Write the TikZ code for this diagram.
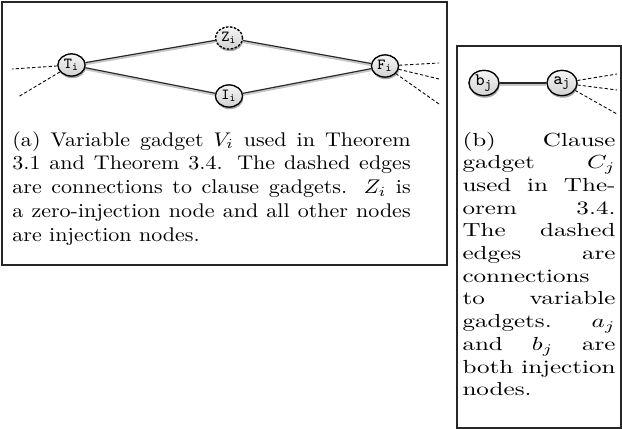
\documentclass[tikz,border=0pt]{standalone}
\usetikzlibrary{shapes.geometric,shadows}

\tikzset{
  gnode/.style={ellipse, draw=black, line width=0.55pt,
    top color=gray!8, bottom color=gray!35,
    minimum width=12.3pt, minimum height=10pt, inner sep=0pt,
    drop shadow={shadow xshift=0.35pt, shadow yshift=-1pt, opacity=0.45},
    font=\scriptsize},
  bignode/.style={gnode, minimum width=13.6pt, minimum height=11.4pt,
    font=\footnotesize},
  zeronode/.style={gnode, dash pattern=on 1.1pt off 0.7pt},
  gedge/.style={draw=black!85, line width=0.5pt,
    preaction={draw=gray!45, line width=1.4pt, transform canvas={yshift=-0.45pt}}},
  glink/.style={draw=black, line width=0.4pt, dash pattern=on 1.5pt off 1pt},
  gframe/.style={draw=black!85, line width=0.55pt},
  capt/.style={anchor=base west, inner sep=0pt, align=justify,
    font=\normalsize, transform shape}
}
\newcommand{\gl}[2]{$\mathtt{#1}_{\mathtt{#2}}$}
\hbadness=10000

\begin{document}
\begin{tikzpicture}[x=0.4545pt, y=-0.4545pt]
  \useasboundingbox (0,0) rectangle (622,429);

  % frames of the two sub-figures
  \draw[gframe] (2,2) rectangle (447,265);
  \draw[gframe] (457,46) rectangle (621,428);

  % variable gadget
  \node[gnode]    (T) at (71.5,65) {\gl{T}{i}};
  \node[zeronode] (Z) at (229,38)  {\gl{Z}{i}};
  \node[gnode]    (I) at (229,96)  {\gl{I}{i}};
  \node[gnode]    (F) at (385,66)  {\gl{F}{i}};

  \coordinate (t1) at (12,69);
  \coordinate (t2) at (18,97);
  \coordinate (f1) at (439,63);
  \coordinate (f2) at (439,79);
  \coordinate (f3) at (439,104);

  \draw[gedge] (T) -- (Z);
  \draw[gedge] (T) -- (I);
  \draw[gedge] (Z) -- (F);
  \draw[gedge] (I) -- (F);
  \draw[glink] (T) -- (t1);
  \draw[glink] (T) -- (t2);
  \draw[glink] (F) -- (f1);
  \draw[glink] (F) -- (f2);
  \draw[glink] (F) -- (f3);

  % clause gadget
  \node[bignode] (b) at (484,83) {\gl{b}{j}};
  \node[bignode] (a) at (562,83) {\gl{a}{j}};
  \coordinate (a1) at (617,74);
  \coordinate (a2) at (617,90);
  \coordinate (a3) at (617,114);
  \draw[gedge] (b) -- (a);
  \draw[glink] (a) -- (a1);
  \draw[glink] (a) -- (a2);
  \draw[glink] (a) -- (a3);

  % nodes again, on top of the edges
  \node[gnode]    at (T) {\gl{T}{i}};
  \node[zeronode] at (Z) {\gl{Z}{i}};
  \node[gnode]    at (I) {\gl{I}{i}};
  \node[gnode]    at (F) {\gl{F}{i}};
  \node[bignode]  at (b) {\gl{b}{j}};
  \node[bignode]  at (a) {\gl{a}{j}};

  % captions
  \node[capt, yscale=0.9, text width=181pt] (capa) at (12,146)
    {(a) Variable gadget $V_i$ used in Theorem\linebreak
     3.1 and Theorem 3.4. The dashed edges\linebreak
     are connections to clause gadgets. $Z_i$ is\linebreak
     a zero-injection node and all other nodes\linebreak
     are injection nodes.};
  \node[capt, xscale=1.14, yscale=0.86, text width=61pt] (capb) at (462,146)
    {(b) Clause\linebreak
     gadget $C_j$\linebreak
     used in The-\linebreak
     orem 3.4.\linebreak
     The dashed\linebreak
     edges are\linebreak
     connections\linebreak
     to variable\linebreak
     gadgets. $a_j$\linebreak
     and $b_j$ are\linebreak
     both injection\linebreak
     nodes.};
\end{tikzpicture}
\end{document}
